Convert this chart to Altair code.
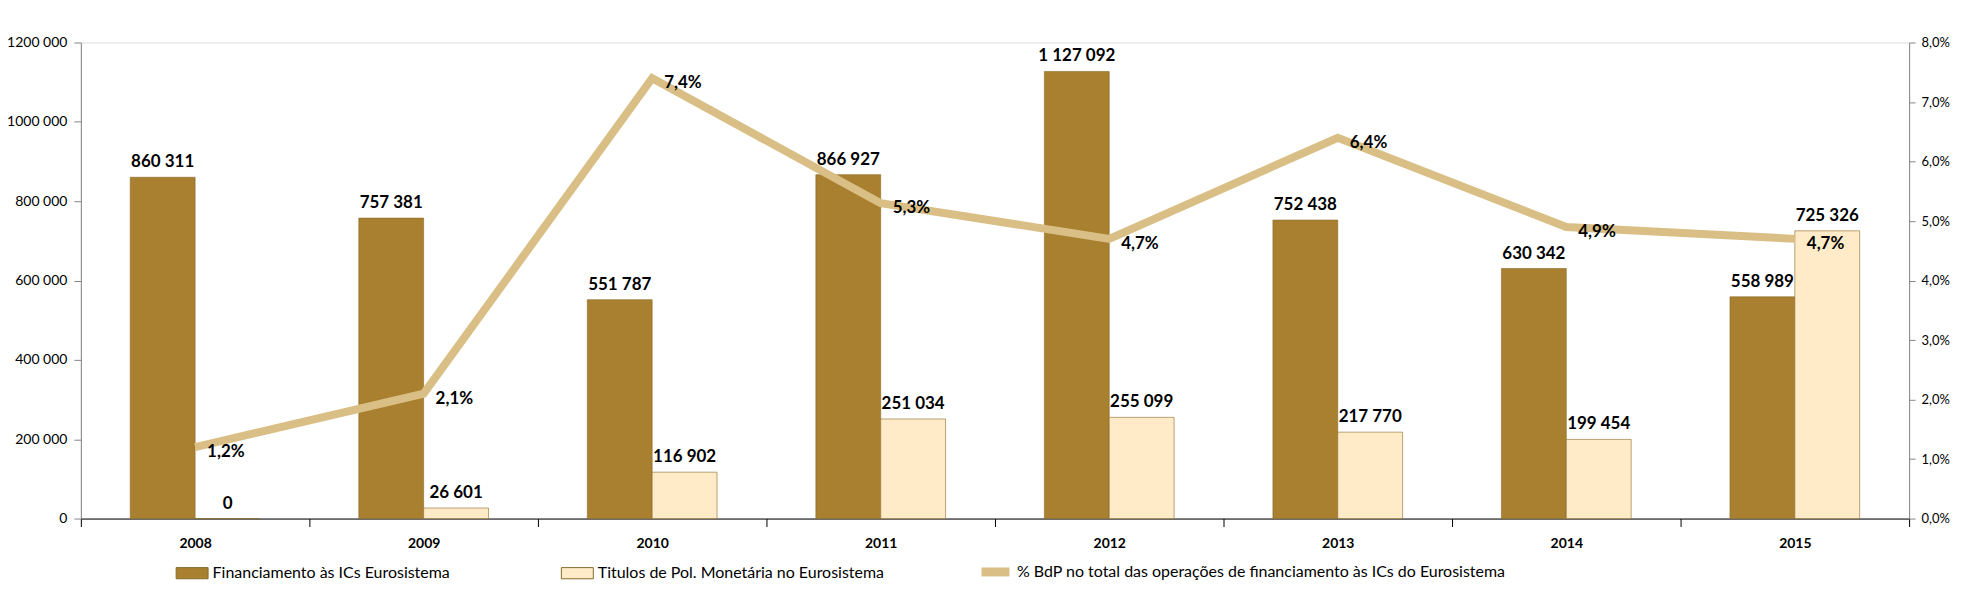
import altair as alt
import pandas as pd

years = ["2008", "2009", "2010", "2011", "2012", "2013", "2014", "2015"]
financiamento = [860311, 757381, 551787, 866927, 1127092, 752438, 630342, 558989]
titulos = [0, 26601, 116902, 251034, 255099, 217770, 199454, 725326]
pct_bdp = [1.2, 2.1, 7.4, 5.3, 4.7, 6.4, 4.9, 4.7]

s1 = "Financiamento às ICs Eurosistema"
s2 = "Titulos de Pol. Monetária no Eurosistema"
s3 = "% BdP no total das operações de financiamento às ICs do Eurosistema"

rows = []
for y, a, b in zip(years, financiamento, titulos):
    rows.append({"year": y, "series": s1, "value": a, "label": f"{a:,}".replace(",", " ")})
    rows.append({"year": y, "series": s2, "value": b, "label": f"{b:,}".replace(",", " ")})
bars_df = pd.DataFrame(rows)

line_df = pd.DataFrame({
    "year": years,
    "pct": pct_bdp,
    "lname": [s3] * len(years),
    "plabel": [f"{p:.1f}%".replace(".", ",") for p in pct_bdp],
})

FONT = "Lato"
DARK = "#A8802F"
LIGHT = "#FFEBC8"
LINEC = "#D9BF85"

xscale = alt.Scale(domain=years, paddingInner=0, paddingOuter=0)
xaxis = alt.Axis(title=None, labelFont=FONT, labelFontSize=14, labelFontWeight="bold",
                 labelColor="black", tickBand="extent", tickSize=8, tickColor="black",
                 domainColor="black", labelPadding=10, labelAngle=0)
x_enc = alt.X("year:N", scale=xscale, axis=xaxis)

off_enc = alt.XOffset("series:N", scale=alt.Scale(domain=[s1, s2], paddingInner=0, paddingOuter=0.7616))

y_left = alt.Y("value:Q",
               scale=alt.Scale(domain=[0, 1200000], nice=False),
               axis=alt.Axis(title=None, values=[0, 200000, 400000, 600000, 800000, 1000000, 1200000],
                             labelExpr="datum.value == 0 ? '0' : floor(datum.value/1000) + ' 000'",
                             labelFont=FONT, labelFontSize=14, labelColor="black",
                             tickSize=7, tickColor="#868686", domainColor="#868686",
                             labelPadding=7, grid=False, orient="left"))

y_right = alt.Y("pct:Q",
                scale=alt.Scale(domain=[0, 8], nice=False),
                axis=alt.Axis(title=None, values=[0, 1, 2, 3, 4, 5, 6, 7, 8],
                              labelExpr="replace(format(datum.value, '.1f'), '.', ',') + '%'",
                              labelFont=FONT, labelFontSize=13, labelColor="black",
                              tickSize=6, tickColor="#868686", domainColor="#868686",
                              labelPadding=6, grid=False, orient="right"))

bars = alt.Chart(bars_df).mark_bar(stroke="#8a6a28", strokeWidth=1, strokeOpacity=0.6).encode(
    x=x_enc,
    xOffset=off_enc,
    y=y_left,
    color=alt.Color("series:N",
                    scale=alt.Scale(domain=[s1, s2], range=[DARK, LIGHT]),
                    legend=alt.Legend(title=None, orient="none", legendX=95, legendY=515,
                                      direction="horizontal", labelFont=FONT, labelFontSize=16,
                                      labelColor="black", labelLimit=600,
                                      symbolType="M-1,-0.35H1V0.35H-1Z", symbolSize=1024,
                                      symbolStrokeColor="#8a6a28", symbolStrokeWidth=1,
                                      columnPadding=109, labelOffset=4)),
)

bar_labels = alt.Chart(bars_df).mark_text(font=FONT, fontSize=17, fontWeight="bold",
                                          color="black", baseline="bottom", dy=-6).encode(
    x=x_enc,
    xOffset=off_enc,
    y=y_left,
    text="label:N",
)

line = alt.Chart(line_df).mark_line(strokeWidth=8, strokeCap="butt", strokeJoin="miter").encode(
    x=x_enc,
    y=y_right,
    stroke=alt.Stroke("lname:N", scale=alt.Scale(domain=[s3], range=[LINEC]),
                      legend=alt.Legend(title=None, orient="none", legendX=898, legendY=512,
                                        labelFont=FONT, labelFontSize=16, labelColor="black",
                                        labelLimit=800, symbolType="stroke", symbolSize=784,
                                        symbolStrokeWidth=9, labelOffset=3)),
)

pct_labels = alt.Chart(line_df).mark_text(font=FONT, fontSize=17, fontWeight="bold",
                                          color="black", align="left", baseline="middle",
                                          dx=12, dy=5).encode(
    x=x_enc,
    y=y_right,
    text="plabel:N",
)

left = alt.layer(bars, bar_labels)
right = alt.layer(line, pct_labels)

chart = alt.layer(left, right).resolve_scale(y="independent").properties(
    width=1832, height=477,
    autosize=alt.AutoSizeParams(type="none"),
    padding={"left": 73, "top": 34, "right": 48, "bottom": 70},
).configure_view(stroke=None).configure(background="white")

chart.save("out.html", embed_options={"renderer": "svg", "actions": False})
